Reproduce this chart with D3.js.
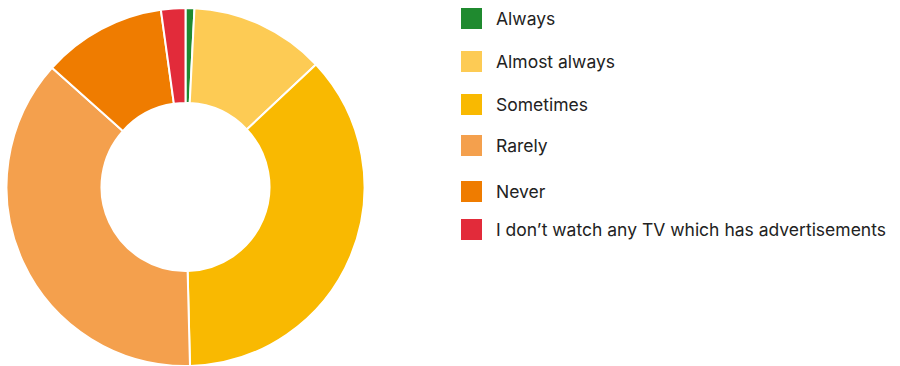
<!DOCTYPE html>
<html>
<head>
<meta charset="utf-8">
<script src="https://cdn.jsdelivr.net/npm/d3@7"></script>
<style>
  html, body { margin: 0; padding: 0; background: #fff; }
  svg { display: block; }
</style>
</head>
<body>
<svg id="chart" width="900" height="366"></svg>
<script>
// Answer categories and their shares (%)
const categories = [
  "Always",
  "Almost always",
  "Sometimes",
  "Rarely",
  "Never",
  "I don\u2019t watch any TV which has advertisements"
];
const shares = [0.8, 12.2, 36.6, 37.0, 11.2, 2.2];
const colors = ["#1f8a2f", "#fdcb54", "#f9b901", "#f4a04d", "#ef7c00", "#e22b3a"];
// Vertical positions of the legend rows (swatch top edges)
const legendRowTops = [8, 51, 94, 135, 181, 219];

const svg = d3.select("#chart");
const cx = 185.5, cy = 187, outerR = 179, innerR = 84;

const data = categories.map((c, i) => ({ label: c, value: shares[i] }));

const color = d3.scaleOrdinal().domain(categories).range(colors);

const pie = d3.pie().value(d => d.value).sort(null);
const arc = d3.arc().innerRadius(innerR).outerRadius(outerR);

svg.append("g")
  .attr("transform", `translate(${cx},${cy})`)
  .selectAll("path")
  .data(pie(data))
  .join("path")
  .attr("d", arc)
  .attr("fill", d => color(d.data.label))
  .attr("stroke", "#fff")
  .attr("stroke-width", 2)
  .attr("stroke-linejoin", "round");

const legend = svg.append("g");
const rows = legend.selectAll("g")
  .data(data)
  .join("g")
  .attr("transform", (d, i) => `translate(461,${legendRowTops[i]})`);

rows.append("rect")
  .attr("width", 21)
  .attr("height", 21)
  .attr("fill", d => color(d.label));

rows.append("text")
  .attr("x", 35)
  .attr("y", 17)
  .attr("font-family", "Inter, Liberation Sans, Arial, sans-serif")
  .attr("font-size", 17.5)
  .attr("fill", "#222")
  .text(d => d.label);
</script>
</body>
</html>
